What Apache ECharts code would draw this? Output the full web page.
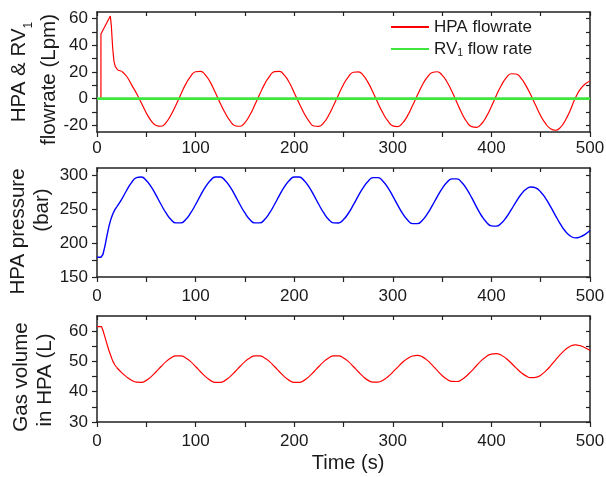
<!DOCTYPE html>
<html>
<head>
<meta charset="utf-8">
<script src="https://cdn.jsdelivr.net/npm/echarts@6/dist/echarts.min.js"></script>
<style>
html,body{margin:0;padding:0;background:#fff;}
#chart{width:606px;height:477px;}
</style>
</head>
<body>
<div id="chart"></div>
<script>
// ---------- data ----------
const xTicks = [0, 100, 200, 300, 400, 500];

// start-up transient of the HPA flowrate (Lpm)
const flowTime0 = [0, 4, 4, 13.5, 14.5, 15.9, 17.2, 18.6, 21, 25];
const flowRate0 = [0, 0, 48.5, 62, 55, 38, 28, 24, 21.5, 20.6];

// regular time grid (s)
const timeS = [20,25,30,35,40,45,50,55,60,65,70,75,80,85,90,95,100,105,110,115,120,125,130,135,140,145,150,155,160,165,170,175,180,185,190,195,200,205,210,215,220,225,230,235,240,245,250,255,260,265,270,275,280,285,290,295,300,305,310,315,320,325,330,335,340,345,350,355,360,365,370,375,380,385,390,395,400,405,410,415,420,425,430,435,440,445,450,455,460,465,470,475,480,485,490,495,500];

// HPA flowrate on timeS from 25 s on
const flowRate = [20.6,16.8,10.5,4.0,-3.2,-10.7,-16.6,-20.1,-20.7,-17.9,-12.3,-4.9,3.2,10.9,16.8,20.2,20.5,17.7,12.2,4.6,-3.4,-10.8,-16.7,-20.3,-20.7,-17.9,-12.3,-4.8,3.3,10.9,16.8,20.3,20.5,17.6,12.1,4.5,-3.5,-10.9,-16.8,-20.5,-20.8,-18.0,-12.4,-5.0,3.0,10.6,16.4,19.8,20.1,17.5,12.0,4.6,-3.4,-10.8,-16.7,-20.4,-20.9,-18.2,-12.7,-5.2,2.7,10.3,16.1,19.6,20.2,17.7,12.5,5.4,-2.8,-10.9,-17.3,-21.0,-21.5,-18.8,-13.3,-5.8,2.4,9.9,15.6,18.7,18.5,15.4,9.8,2.7,-5.2,-12.8,-18.8,-22.6,-23.7,-21.5,-16.2,-8.6,0.3,7.0,11.0,13.3];

// RV1 flow rate
const rvTime = [0, 500];
const rvFlow = [0, 0];

// HPA pressure (bar)
const pressTime0 = [0, 4, 6, 8, 10, 12, 14, 16, 18, 20];
const pressure0 = [179, 179, 183, 195, 210, 223.5, 234.5, 242.5, 248.5, 253];
const pressure = [253,264,277,288.5,295.8,296.8,291.7,282.2,269.8,256.4,244.0,234.5,229.4,229.4,234.5,244.0,256.4,269.8,282.2,291.7,296.8,296.8,291.7,282.2,269.8,256.4,244.0,234.5,229.4,229.4,234.5,244.0,256.4,269.8,282.2,291.7,296.8,296.8,291.7,282.2,269.8,256.4,244.0,234.5,229.4,229.3,234.3,243.6,255.8,269.0,281.3,290.7,295.8,295.8,290.7,281.2,268.8,255.4,243.0,233.5,228.4,228.3,233.4,242.6,254.7,267.7,279.8,289.0,294.0,294.0,288.7,279.1,266.4,252.6,239.9,230.3,225.0,224.7,229.0,237.4,248.5,260.4,271.1,278.8,282.2,280.7,274.9,265.4,253.3,240.2,227.6,217.2,210.2,207.4,208.8,212.6,218.3];

// Gas volume in HPA (L)
const volTime0 = [0, 4.5, 6, 8, 10, 12, 14, 16, 18, 20];
const volume0 = [61.5, 61.5, 60.3, 58.1, 55.9, 53.7, 51.9, 50.1, 48.9, 48.0];
const volume = [48.0,46.3,44.9,43.8,43.15,43.1,43.75,44.98,46.58,48.32,49.92,51.15,51.82,51.82,51.15,49.92,48.32,46.58,44.98,43.75,43.1,43.1,43.75,44.98,46.58,48.32,49.92,51.15,51.82,51.82,51.15,49.92,48.32,46.58,44.98,43.75,43.1,43.1,43.75,44.98,46.58,48.32,49.92,51.15,51.82,51.82,51.15,49.92,48.32,46.58,44.98,43.75,43.15,43.18,43.8,44.95,46.46,48.14,49.73,51.0,51.8,52.0,51.5,50.36,48.79,47.03,45.37,44.09,43.39,43.38,44.04,45.28,46.89,48.66,50.33,51.65,52.43,52.57,52.05,50.96,49.49,47.87,46.37,45.24,44.65,44.73,45.47,46.79,48.51,50.44,52.31,53.9,55.01,55.48,55.2,54.5,53.6];

// axis ranges and ticks
const flowRange = [-25, 65];
const flowLabels = [-20, 0, 20, 40, 60];
const flowTicks = [-20, -10, 0, 10, 20, 30, 40, 50, 60];
const pressRange = [150, 310];
const pressLabels = [150, 200, 250, 300];
const pressTicks = [150, 175, 200, 225, 250, 275, 300];
const volRange = [30, 65];
const volLabels = [30, 40, 50, 60];
const volTicks = [30, 35, 40, 45, 50, 55, 60];

// ---------- chart ----------
const zip = (xs, ys) => xs.map((x, i) => [x, ys[i]]);
const FONT = 'Liberation Sans';
const TXT = '#1a1a1a';
const AX = '#222';

function xAx(grid, bottom, margin, extra) {
  return Object.assign({
    type: 'value', gridIndex: grid, min: 0, max: 500, interval: 100,
    position: bottom ? 'bottom' : 'top', nameMoveOverlap: false,
    axisLine: {show: true, onZero: false, lineStyle: {color: AX, width: 1.5}},
    axisTick: {show: true, inside: !bottom, length: bottom ? 5 : 4, lineStyle: {color: AX, width: 1.2}},
    minorTick: {show: true, splitNumber: 2, length: bottom ? 5 : 4, lineStyle: {color: AX, width: 1.2}},
    splitLine: {show: false}, minorSplitLine: {show: false},
    axisLabel: {show: bottom, margin: margin, fontFamily: FONT, fontSize: 17, color: TXT}
  }, extra || {});
}
function yAx(grid, left, range, labels, ticks, extra) {
  return Object.assign({
    type: 'value', gridIndex: grid, min: range[0], max: range[1],
    position: left ? 'left' : 'right', nameMoveOverlap: false,
    axisLine: {show: true, onZero: false, lineStyle: {color: AX, width: 1.5}},
    axisTick: {show: true, inside: !left, length: left ? 5 : 4, customValues: ticks, lineStyle: {color: AX, width: 1.2}},
    splitLine: {show: false},
    axisLabel: {show: left, margin: 9, customValues: labels, fontFamily: FONT, fontSize: 17, color: TXT}
  }, extra || {});
}
const nameBase = {fontFamily: FONT, fontSize: 20.5, color: TXT};
const gridBase = {left: 97, right: 16, containLabel: false, outerBoundsMode: 'none'};

const option = {
  animation: false,
  backgroundColor: '#fff',
  grid: [
    Object.assign({top: 12, height: 120}, gridBase),
    Object.assign({top: 168, height: 109}, gridBase),
    Object.assign({top: 316, height: 106}, gridBase)
  ],
  legend: {
    data: ['HPA flowrate', 'RV1 flow rate'],
    orient: 'vertical', left: 390, top: 17, padding: 0,
    itemWidth: 38, itemHeight: 14, itemGap: 2,
    itemStyle: {opacity: 0},
    formatter: function (n) { return n === 'RV1 flow rate' ? '{n|RV}{sub|1}{n| flow rate}' : '{n|' + n + '}'; },
    textStyle: {fontFamily: FONT, fontSize: 17, color: TXT, lineHeight: 20,
      rich: {n: {fontFamily: FONT, fontSize: 17, color: TXT, lineHeight: 20},
             sub: {fontFamily: FONT, fontSize: 10.5, color: TXT, lineHeight: 1, verticalAlign: 'bottom'}}}
  },
  xAxis: [
    xAx(0, true, 7.5),
    xAx(1, true, 11),
    xAx(2, true, 11, {name: 'Time (s)', nameLocation: 'middle', nameGap: 31,
      nameTextStyle: {fontFamily: FONT, fontSize: 20, color: TXT, padding: [0, 0, 0, 9]}}),
    xAx(0, false), xAx(1, false), xAx(2, false)
  ],
  yAxis: [
    yAx(0, true, flowRange, flowLabels, flowTicks, {
      name: '{a|HPA & RV}{s|1}\n{b|flowrate (Lpm)}', nameLocation: 'middle', nameGap: 32,
      nameTextStyle: Object.assign({}, nameBase, {lineHeight: 30.5, rich: {
        a: Object.assign({}, nameBase, {lineHeight: 30.5}),
        s: {fontFamily: FONT, fontSize: 12, color: TXT, lineHeight: 11, verticalAlign: 'bottom'},
        b: Object.assign({}, nameBase, {lineHeight: 30.5, padding: [0, 15, 0, 0]})
      }})
    }),
    yAx(1, true, pressRange, pressLabels, pressTicks, {
      name: '{a|HPA pressure}\n{b|(bar)}', nameLocation: 'middle', nameGap: 42,
      nameTextStyle: Object.assign({}, nameBase, {lineHeight: 24.5, rich: {
        a: Object.assign({}, nameBase, {lineHeight: 24.5, padding: [0, 18, 0, 0]}),
        b: Object.assign({}, nameBase, {lineHeight: 24.5, padding: [0, 0, 0, 25]})
      }})
    }),
    yAx(2, true, volRange, volLabels, volTicks, {
      name: '{a|Gas volume}\n{b|in HPA (L)}', nameLocation: 'middle', nameGap: 40,
      nameTextStyle: Object.assign({}, nameBase, {lineHeight: 24, rich: {
        a: Object.assign({}, nameBase, {lineHeight: 24, padding: [0, 16, 0, 0]}),
        b: Object.assign({}, nameBase, {lineHeight: 24, padding: [0, 22, 0, 0]})
      }})
    }),
    yAx(0, false, flowRange, flowLabels, flowTicks),
    yAx(1, false, pressRange, pressLabels, pressTicks),
    yAx(2, false, volRange, volLabels, volTicks)
  ],
  series: [
    {name: 'HPA flowrate', type: 'line', xAxisIndex: 0, yAxisIndex: 0, symbol: 'none', smooth: false,
      data: zip(flowTime0, flowRate0), lineStyle: {color: '#ff0000', width: 1.2}, itemStyle: {color: '#ff0000'}},
    {name: 'HPA flowrate', type: 'line', xAxisIndex: 0, yAxisIndex: 0, symbol: 'none', smooth: true,
      data: zip(timeS.slice(1), flowRate), lineStyle: {color: '#ff0000', width: 1.2}, itemStyle: {color: '#ff0000'}},
    {name: 'RV1 flow rate', type: 'line', xAxisIndex: 0, yAxisIndex: 0, symbol: 'none',
      data: zip(rvTime, rvFlow), lineStyle: {color: '#3ee63e', width: 2.6}, itemStyle: {color: '#3ee63e'}},
    {name: 'HPA pressure', type: 'line', xAxisIndex: 1, yAxisIndex: 1, symbol: 'none', smooth: false,
      data: zip(pressTime0, pressure0), lineStyle: {color: '#0000ff', width: 1.4}},
    {name: 'HPA pressure', type: 'line', xAxisIndex: 1, yAxisIndex: 1, symbol: 'none', smooth: true,
      data: zip(timeS, pressure), lineStyle: {color: '#0000ff', width: 1.4}},
    {name: 'Gas volume', type: 'line', xAxisIndex: 2, yAxisIndex: 2, symbol: 'none', smooth: false,
      data: zip(volTime0, volume0), lineStyle: {color: '#ff0000', width: 1.2}},
    {name: 'Gas volume', type: 'line', xAxisIndex: 2, yAxisIndex: 2, symbol: 'none', smooth: true,
      data: zip(timeS, volume), lineStyle: {color: '#ff0000', width: 1.2}}
  ]
};
const chart = echarts.init(document.getElementById('chart'), null, {renderer: 'canvas'});
chart.setOption(option);
</script>
</body>
</html>
